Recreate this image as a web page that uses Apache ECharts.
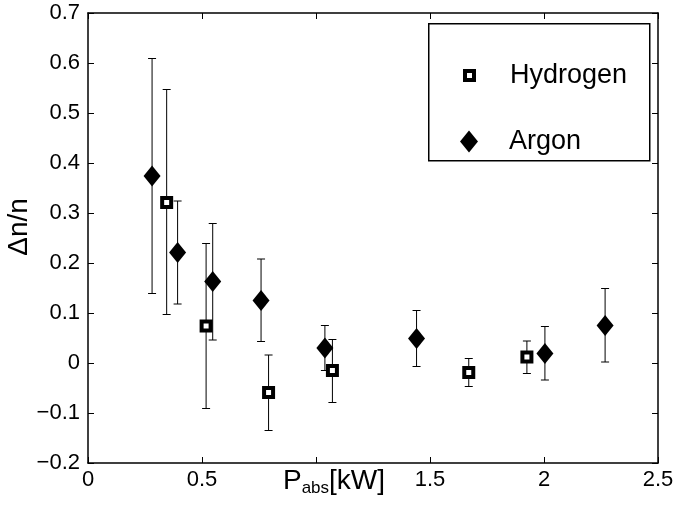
<!DOCTYPE html>
<html>
<head>
<meta charset="utf-8">
<script src="https://cdn.jsdelivr.net/npm/echarts@6/dist/echarts.min.js"></script>
<style>
  html, body { margin: 0; padding: 0; background: #fff; }
  #chart { width: 679px; height: 507px; }
</style>
</head>
<body>
<div id="chart"></div>
<script>
// Argon measurements
const argonX = [0.281, 0.393, 0.547, 0.759, 1.039, 1.441, 2.004, 2.268];
const argonY = [0.374, 0.221, 0.163, 0.125, 0.030, 0.049, 0.019, 0.075];
const argonHi = [0.609, 0.324, 0.279, 0.208, 0.075, 0.105, 0.073, 0.149];
const argonLo = [0.139, 0.118, 0.046, 0.043, -0.015, -0.007, -0.034, 0.002];

// Hydrogen measurements
const hydrogenX = [0.345, 0.518, 0.792, 1.072, 1.670, 1.925];
const hydrogenY = [0.321, 0.074, -0.059, -0.015, -0.019, 0.012];
const hydrogenHi = [0.547, 0.239, 0.016, 0.047, 0.009, 0.044];
const hydrogenLo = [0.097, -0.091, -0.135, -0.079, -0.047, -0.021];

// tick labels ('1' is hidden behind the axis title in the original)
const xTicks = [0, 0.5, 1, 1.5, 2, 2.5];
const xTickLabels = ['0', '0.5', '', '1.5', '2', '2.5'];
const yTicks = [-0.2, -0.1, 0, 0.1, 0.2, 0.3, 0.4, 0.5, 0.6, 0.7];
const yTickLabels = ['\u22120.2', '\u22120.1', '0', '0.1', '0.2', '0.3', '0.4', '0.5', '0.6', '0.7'];

const FONT = '"Liberation Sans", Arial, Helvetica, sans-serif';

const pickLabel = (ticks, labels) => val => {
  const i = ticks.findIndex(t => Math.abs(t - val) < 1e-6);
  return i >= 0 ? labels[i] : '';
};

/*误差棒*/
const errorBar = (params, api) => {
  const x = api.value(0);
  const top = api.coord([x, api.value(2)]);
  const bot = api.coord([x, api.value(1)]);
  const hw = 4;
  const style = { stroke: '#000', lineWidth: 1 };
  return {
    type: 'group',
    children: [
      { type: 'line', shape: { x1: top[0], y1: top[1], x2: bot[0], y2: bot[1] }, style },
      { type: 'line', shape: { x1: top[0] - hw, y1: top[1], x2: top[0] + hw, y2: top[1] }, style },
      { type: 'line', shape: { x1: bot[0] - hw, y1: bot[1], x2: bot[0] + hw, y2: bot[1] }, style },
    ],
  };
};

const axisCommon = {
  axisLine: { show: true, onZero: false, lineStyle: { color: '#000', width: 1.5 } },
  axisTick: { show: true, inside: true, length: 6, lineStyle: { color: '#000' } },
  splitLine: { show: false },
};

const chart = echarts.init(document.getElementById('chart'));
chart.setOption({
  animation: false,
  backgroundColor: '#fff',
  textStyle: { fontFamily: FONT, color: '#000' },
  grid: { left: 88, right: 21, top: 13, bottom: 44, outerBoundsMode: 'none', containLabel: false },
  xAxis: [
    {
      type: 'value',
      min: 0,
      max: 2.5,
      interval: 0.5,
      position: 'bottom',
      ...axisCommon,
      axisLabel: {
        color: '#000',
        fontFamily: FONT,
        fontSize: 22,
        margin: 6,
        formatter: pickLabel(xTicks, xTickLabels),
      },
      name: '{p|P}{s|abs}{p|[kW]}',
      nameLocation: 'middle',
      nameGap: 3,
      nameMoveOverlap: false,
      nameTextStyle: {
        padding: [0, 78, 0, 0],
        rich: {
          p: { fontFamily: FONT, fontSize: 28, color: '#000' },
          s: { fontFamily: FONT, fontSize: 17, color: '#000', padding: [14, 0, 0, 0] },
        },
      },
    },
    {
      type: 'value',
      min: 0,
      max: 2.5,
      interval: 0.5,
      position: 'top',
      ...axisCommon,
      axisLabel: { show: false },
    },
  ],
  yAxis: [
    {
      type: 'value',
      min: -0.2,
      max: 0.7,
      interval: 0.1,
      position: 'left',
      ...axisCommon,
      axisLabel: {
        color: '#000',
        fontFamily: FONT,
        fontSize: 22,
        margin: 8,
        formatter: pickLabel(yTicks, yTickLabels),
      },
      name: '\u0394n/n',
      nameLocation: 'middle',
      nameGap: 55,
      nameMoveOverlap: false,
      nameTextStyle: { fontFamily: FONT, fontSize: 28, color: '#000', padding: [0, 0, 0, 22] },
    },
    {
      type: 'value',
      min: -0.2,
      max: 0.7,
      interval: 0.1,
      position: 'right',
      ...axisCommon,
      axisLabel: { show: false },
    },
  ],
  legend: [
    {
      data: [{ name: 'Hydrogen', itemStyle: { color: '#fff', borderColor: '#000', borderWidth: 4 } }],
      left: 463,
      top: 62,
      padding: 0,
      itemWidth: 9,
      itemHeight: 9,
      selectedMode: false,
      formatter: name => '{g|}' + name,
      textStyle: {
        fontFamily: FONT,
        fontSize: 27,
        color: '#000',
        rich: { g: { width: 31 } },
      },
    },
    {
      data: ['Argon'],
      left: 460,
      top: 128,
      padding: 0,
      itemWidth: 18,
      itemHeight: 22,
      selectedMode: false,
      formatter: name => '{g|}' + name,
      textStyle: {
        fontFamily: FONT,
        fontSize: 27,
        color: '#000',
        rich: { g: { width: 26 } },
      },
    },
  ],
  graphic: [
    {
      type: 'rect',
      left: 428,
      top: 23,
      shape: { width: 221, height: 137 },
      style: { fill: 'transparent', stroke: '#000', lineWidth: 1.5 },
      z: 0,
    },
  ],
  series: [
    {
      name: 'Hydrogen error',
      type: 'custom',
      renderItem: errorBar,
      data: hydrogenX.map((x, i) => [x, hydrogenLo[i], hydrogenHi[i]]),
      encode: { x: 0, y: [1, 2] },
      z: 1,
    },
    {
      name: 'Argon error',
      type: 'custom',
      renderItem: errorBar,
      data: argonX.map((x, i) => [x, argonLo[i], argonHi[i]]),
      encode: { x: 0, y: [1, 2] },
      z: 1,
    },
    {
      name: 'Hydrogen',
      type: 'scatter',
      symbol: 'rect',
      symbolSize: 9,
      itemStyle: { color: '#fff', borderColor: '#000', borderWidth: 4, opacity: 1 },
      data: hydrogenX.map((x, i) => [x, hydrogenY[i]]),
      z: 3,
    },
    {
      name: 'Argon',
      type: 'scatter',
      symbol: 'diamond',
      symbolSize: [17, 21],
      itemStyle: { color: '#000', opacity: 1 },
      data: argonX.map((x, i) => [x, argonY[i]]),
      z: 3,
    },
  ],
});
</script>
</body>
</html>
